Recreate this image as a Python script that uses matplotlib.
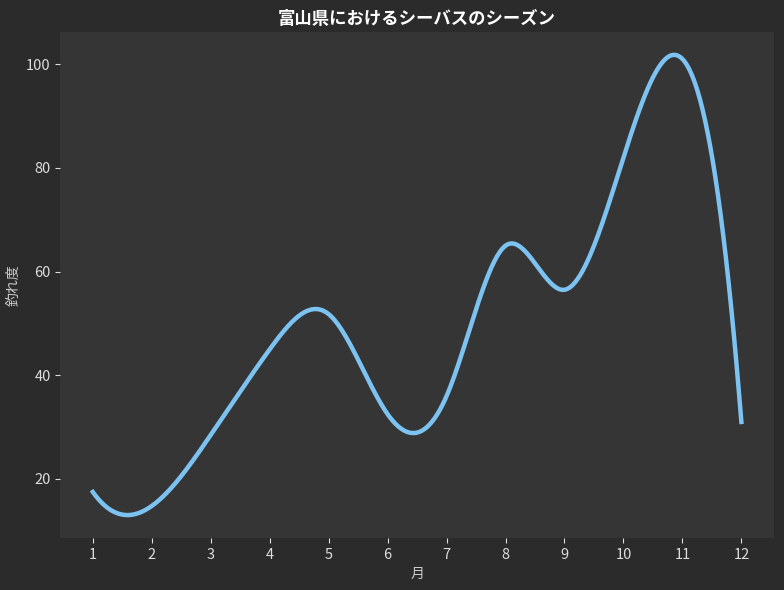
import numpy as np
import matplotlib
matplotlib.use('Agg')
import matplotlib.pyplot as plt

plt.rcParams['font.family'] = ['Noto Sans CJK JP', 'DejaVu Sans']

# 月ごとの釣れ度
months = [1, 2, 3, 4, 5, 6, 7, 8, 9, 10, 11, 12]
score = [17.5, 14.8, 28.5, 45, 51.8, 32.5, 36, 65, 56.5, 82, 101, 31]


def spline(x, y, xs):
    # not-a-knot の3次スプライン
    x = np.asarray(x, float)
    y = np.asarray(y, float)
    n = len(x)
    h = np.diff(x)
    A = np.zeros((n, n))
    b = np.zeros(n)
    A[0, 0], A[0, 1], A[0, 2] = h[1], -(h[0] + h[1]), h[0]
    A[-1, -3], A[-1, -2], A[-1, -1] = h[-1], -(h[-2] + h[-1]), h[-2]
    for i in range(1, n - 1):
        A[i, i - 1] = h[i - 1]
        A[i, i] = 2 * (h[i - 1] + h[i])
        A[i, i + 1] = h[i]
        b[i] = 6 * ((y[i + 1] - y[i]) / h[i] - (y[i] - y[i - 1]) / h[i - 1])
    M = np.linalg.solve(A, b)
    idx = np.clip(np.searchsorted(x, xs) - 1, 0, n - 2)
    x0, x1 = x[idx], x[idx + 1]
    hh = x1 - x0
    return (M[idx] * (x1 - xs) ** 3 / (6 * hh) + M[idx + 1] * (xs - x0) ** 3 / (6 * hh)
            + (y[idx] / hh - M[idx] * hh / 6) * (x1 - xs)
            + (y[idx + 1] / hh - M[idx + 1] * hh / 6) * (xs - x0))


xs = np.linspace(months[0], months[-1], 500)
ys = spline(months, score, xs)

fig, ax = plt.subplots(figsize=(7.84, 5.9), dpi=100)
fig.patch.set_facecolor('#2b2b2b')
ax.set_facecolor('#353535')

ax.plot(xs, ys, color='#7cc3f2', linewidth=3.2)

for s in ax.spines.values():
    s.set_visible(False)
ax.set_xticks(months)
ax.tick_params(colors='#dddddd', labelsize=10.5)
ax.set_xlabel('月', color='#cccccc', fontsize=10)
ax.set_ylabel('釣れ度', color='#cccccc', fontsize=10)
ax.set_title('富山県におけるシーバスのシーズン', color='white', fontsize=12.5, fontweight='bold')

plt.subplots_adjust(left=0.077, right=0.987, top=0.946, bottom=0.088)
plt.savefig('out.png', facecolor=fig.get_facecolor())
